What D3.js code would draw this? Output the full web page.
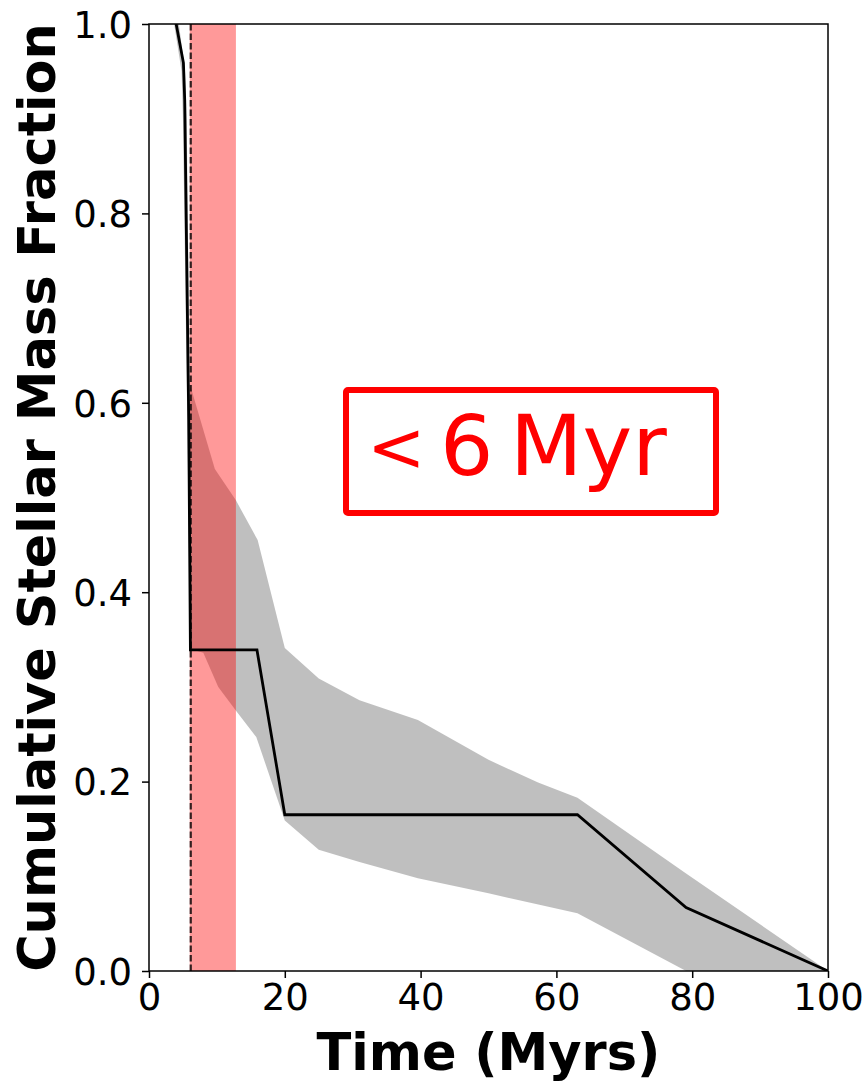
<!DOCTYPE html>
<html>
<head>
<meta charset="utf-8">
<script src="https://cdn.jsdelivr.net/npm/d3@7"></script>
<style>
  html, body { margin: 0; padding: 0; background: #fff; }
  svg { display: block; }
</style>
</head>
<body>
<svg id="chart" width="868" height="1081"></svg>
<script>
// ---- data ----
const lineTime = [4.0, 5.07, 5.26, 5.85, 6.1, 15.9, 20.0, 63.1, 79.1, 100];
const lineFrac = [1.0, 0.959, 0.92, 0.582, 0.339, 0.339, 0.165, 0.165, 0.067, 0.0];

const upperTime = [4.4, 5.3, 5.55, 6.0, 9.7, 12.8, 16.0, 20.0, 25.0, 31.0, 39.6, 50.0, 57.3, 63.1, 79.1, 100];
const upperFrac = [1.0, 0.95, 0.90, 0.62, 0.53, 0.497, 0.455, 0.341, 0.309, 0.286, 0.265, 0.223, 0.199, 0.183, 0.103, 0.0];
const lowerTime = [3.7, 4.8, 5.0, 5.7, 6.05, 8.0, 10.2, 12.9, 15.8, 20.0, 25.0, 31.0, 39.6, 50.0, 57.5, 63.1, 79.1, 100];
const lowerFrac = [1.0, 0.95, 0.90, 0.55, 0.34, 0.336, 0.30, 0.274, 0.247, 0.159, 0.128, 0.115, 0.098, 0.082, 0.07, 0.061, 0.0, 0.0];

const spanRange = [6.0, 12.8];
const ageLine = 6.15;
const xTicks = [0, 20, 40, 60, 80, 100];
const yTicks = [0.0, 0.2, 0.4, 0.6, 0.8, 1.0];
const annotationParts = ["<", "6", "Myr"];
const xLabel = "Time (Myrs)";
const yLabel = "Cumulative Stellar Mass Fraction";

// ---- layout ----
const svg = d3.select("#chart");
const L = 149, T = 24, R = 828, B = 971;
const x = d3.scaleLinear().domain([0, 100]).range([L, R]);
const y = d3.scaleLinear().domain([0, 1]).range([B, T]);

svg.append("defs").append("clipPath").attr("id", "clip")
  .append("rect").attr("x", L).attr("y", T).attr("width", R - L).attr("height", B - T);

const plot = svg.append("g").attr("clip-path", "url(#clip)");

// band
const bandPts = upperTime.map((t, i) => [t, upperFrac[i]])
  .concat(lowerTime.map((t, i) => [t, lowerFrac[i]]).reverse());
plot.append("path")
  .attr("d", d3.line().x(d => x(d[0])).y(d => y(d[1]))(bandPts) + "Z")
  .attr("fill", "#808080").attr("fill-opacity", 0.5).attr("stroke", "none");

// red span
plot.append("rect")
  .attr("x", x(spanRange[0])).attr("y", T)
  .attr("width", x(spanRange[1]) - x(spanRange[0])).attr("height", B - T)
  .attr("fill", "#ff0000").attr("fill-opacity", 0.4);

// dashed line
plot.append("line")
  .attr("x1", x(ageLine)).attr("x2", x(ageLine))
  .attr("y1", y(0)).attr("y2", y(1))
  .attr("stroke", "#000").attr("stroke-opacity", 0.8).attr("stroke-width", 2.2)
  .attr("stroke-dasharray", "6.5,3");

// main line
plot.append("path")
  .datum(lineTime.map((t, i) => [t, lineFrac[i]]))
  .attr("d", d3.line().x(d => x(d[0])).y(d => y(d[1])))
  .attr("fill", "none").attr("stroke", "#000").attr("stroke-width", 2.8)
  .attr("stroke-linejoin", "miter");

// axes
const font = "DejaVu Sans, sans-serif";
const xAxis = svg.append("g").attr("transform", `translate(0,${B})`)
  .call(d3.axisBottom(x).tickValues(xTicks).tickFormat(d3.format("d")).tickSize(7).tickPadding(6));
const yAxis = svg.append("g").attr("transform", `translate(${L},0)`)
  .call(d3.axisLeft(y).tickValues(yTicks).tickFormat(d3.format(".1f")).tickSize(7).tickPadding(10));
[xAxis, yAxis].forEach(a => {
  a.select(".domain").remove();
  a.selectAll(".tick line").attr("stroke", "#000").attr("stroke-width", 1.5);
  a.selectAll(".tick text").attr("font-family", font).attr("font-size", 37).attr("fill", "#000");
});
yAxis.selectAll(".tick text").attr("dy", "0.36em");

// frame
svg.append("rect").attr("x", L).attr("y", T).attr("width", R - L).attr("height", B - T)
  .attr("fill", "none").attr("stroke", "#000").attr("stroke-width", 1.5);

// labels
svg.append("text").attr("x", (L + R) / 2).attr("y", 1070)
  .attr("text-anchor", "middle").attr("font-family", font).attr("font-weight", "bold")
  .attr("font-size", 51).text(xLabel);
svg.append("text").attr("transform", `translate(55,${(T + B) / 2}) rotate(-90)`)
  .attr("text-anchor", "middle").attr("font-family", font).attr("font-weight", "bold")
  .attr("font-size", 51).text(yLabel);

// annotation box
svg.append("rect").attr("x", 346).attr("y", 390).attr("width", 370).attr("height", 123)
  .attr("rx", 2).attr("fill", "#fff").attr("stroke", "#ff0000").attr("stroke-width", 6);
const ann = svg.append("text").attr("y", 475)
  .attr("font-family", font).attr("font-size", 84).attr("fill", "#ff0000");
const annX = [367, 440, 510];
const annSize = [70, 84, 84];
annotationParts.forEach((p, i) => ann.append("tspan").attr("x", annX[i])
  .attr("font-size", annSize[i]).attr("dy", i === 0 ? -4 : (i === 1 ? 4 : 0)).text(p));
</script>
</body>
</html>
